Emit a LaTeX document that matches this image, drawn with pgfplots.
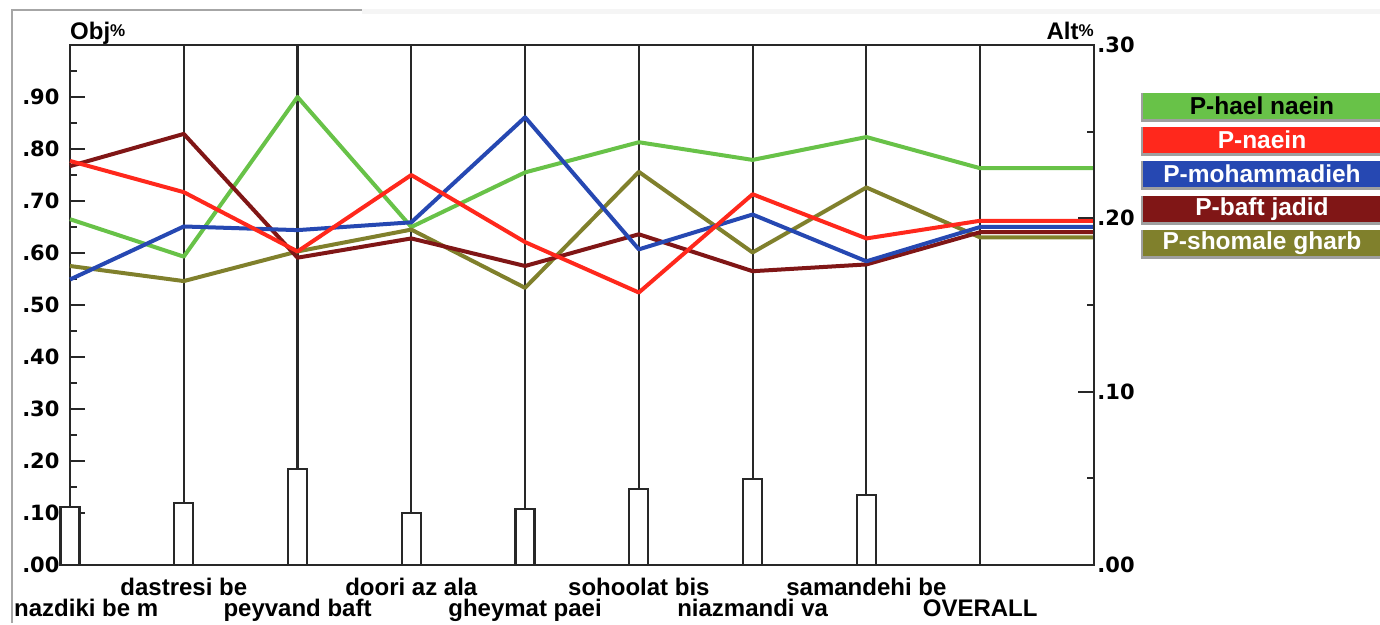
\documentclass[border=0pt]{standalone}
\usepackage{pgfplots}
\pgfplotsset{compat=1.18}
\usepackage{fontspec}
\setmainfont{Liberation Sans}
\newfontfamily\tickfont{DejaVu Sans}

\definecolor{cgreen}{RGB}{104,194,72}
\definecolor{cred}{RGB}{255,40,28}
\definecolor{cblue}{RGB}{38,72,178}
\definecolor{cdred}{RGB}{128,22,22}
\definecolor{colive}{RGB}{128,128,44}
\definecolor{axgray}{RGB}{40,40,40}

\newcommand\lab{\fontsize{24}{26}\selectfont\bfseries}
\newcommand\leg{\fontsize{24.5}{26}\selectfont\bfseries}
\newcommand\tkl{\fontsize{21}{24}\selectfont\tickfont\bfseries}

\begin{document}
\begin{tikzpicture}
% page area: 1380 x 623, plot box lower left at (0,0)
\path (-70pt,-58pt) rectangle (1310pt,565pt);
% window frame of the screenshot
\draw[line width=2pt, gray!70] (-58pt,-58pt) -- (-58pt,555pt) -- (292pt,555pt);
\fill[gray!8] (292pt,551pt) rectangle (1310pt,556pt);

\begin{axis}[
  at={(0,0)}, anchor=south west,
  scale only axis, width=1024pt, height=520pt,
  xmin=0, xmax=9, ymin=0, ymax=1,
  clip=false,
  axis line style={line width=2.2pt, color=axgray},
  xtick=\empty,
  ytick={0,0.1,0.2,0.3,0.4,0.5,0.6,0.7,0.8,0.9},
  yticklabels={.00,.10,.20,.30,.40,.50,.60,.70,.80,.90},
  minor ytick={0.05,0.15,0.25,0.35,0.45,0.55,0.65,0.75,0.85,0.95},
  ytick pos=left, tick align=inside,
  major tick length=15pt, minor tick length=7pt,
  tick style={line width=2.2pt, color=axgray},
  yticklabel style={font=\tkl, xshift=-7pt},
]
% criterion lines
\addplot[ycomb, line width=2.2pt, color=axgray] coordinates {
  (1,1) (2,1) (3,1) (4,1) (5,1) (6,1) (7,1) (8,1)};
% criterion weights
\addplot[ybar, bar width=19pt, fill=white, draw=axgray, line width=2.2pt] coordinates {
  (0,0.112) (1,0.119) (2,0.185) (3,0.100) (4,0.108) (5,0.146) (6,0.166) (7,0.135)};

% alternatives (OVERALL point on the right scale, x 3.33)
\addplot[cgreen, line width=4pt, line join=round] coordinates {
  (0,0.665) (1,0.593) (2,0.900) (3,0.650) (4,0.755) (5,0.813) (6,0.779) (7,0.823) (8,0.763) (9,0.763)};
\addplot[colive, line width=4pt, line join=round] coordinates {
  (0,0.575) (1,0.546) (2,0.603) (3,0.645) (4,0.533) (5,0.756) (6,0.601) (7,0.726) (8,0.630) (9,0.630)};
\addplot[cdred, line width=4pt, line join=round] coordinates {
  (0,0.767) (1,0.829) (2,0.591) (3,0.628) (4,0.575) (5,0.636) (6,0.565) (7,0.578) (8,0.640) (9,0.640)};
\addplot[cblue, line width=4pt, line join=round] coordinates {
  (0,0.549) (1,0.651) (2,0.644) (3,0.659) (4,0.861) (5,0.607) (6,0.674) (7,0.584) (8,0.650) (9,0.650)};
\addplot[cred, line width=4pt, line join=round] coordinates {
  (0,0.777) (1,0.717) (2,0.603) (3,0.750) (4,0.621) (5,0.524) (6,0.713) (7,0.628) (8,0.662) (9,0.662)};

% criterion names
\tikzset{cl/.style={font=\lab, inner sep=0pt}}
\node[cl, anchor=base west] at (axis cs:0,0) [xshift=-56pt, yshift=-51pt] {nazdiki be m};
\node[cl, anchor=base] at (axis cs:1,0) [yshift=-30pt] {dastresi be};
\node[cl, anchor=base] at (axis cs:2,0) [yshift=-51pt] {peyvand baft};
\node[cl, anchor=base] at (axis cs:3,0) [yshift=-30pt] {doori az ala};
\node[cl, anchor=base] at (axis cs:4,0) [yshift=-51pt] {gheymat paei};
\node[cl, anchor=base] at (axis cs:5,0) [yshift=-30pt] {sohoolat bis};
\node[cl, anchor=base] at (axis cs:6,0) [yshift=-51pt] {niazmandi va};
\node[cl, anchor=base] at (axis cs:7,0) [yshift=-30pt] {samandehi be};
\node[cl, anchor=base] at (axis cs:8,0) [yshift=-51pt] {OVERALL};

\node[cl, anchor=base west] at (axis cs:0,1) [yshift=5pt] {Obj\raisebox{3pt}{\fontsize{17}{17}\selectfont\%}};
\node[cl, anchor=base east] at (axis cs:9,1) [yshift=5pt] {Alt\raisebox{3pt}{\fontsize{17}{17}\selectfont\%}};
\end{axis}

\begin{axis}[
  at={(0,0)}, anchor=south west,
  scale only axis, width=1024pt, height=520pt,
  xmin=0, xmax=9, ymin=0, ymax=0.3,
  axis x line=none, axis y line*=right,
  axis line style={line width=2.2pt, color=axgray, -},
  ytick={0,0.1,0.2,0.3},
  yticklabels={.00,.10,.20,.30},
  minor ytick={0.05,0.15,0.25},
  tick align=inside,
  major tick length=16pt, minor tick length=7pt,
  tick style={line width=2.2pt, color=axgray},
  yticklabel style={font=\tkl},
]
\end{axis}

% legend
\foreach \c/\t/\tc/\y in {cgreen/P-hael naein/black/459,
                          cred/P-naein/white/425,
                          cblue/P-mohammadieh/white/391,
                          cdred/P-baft jadid/white/356,
                          colive/P-shomale gharb/white/322}{
  \fill[gray!75] (1071pt,\y pt-16pt) rectangle (1310pt,\y pt+13pt);
  \fill[\c] (1073pt,\y pt-13pt) rectangle (1310pt,\y pt+13pt);
  \node[font=\leg, text=\tc, inner sep=0pt] at (1192pt,\y pt) {\t};
}
\end{tikzpicture}
\end{document}
